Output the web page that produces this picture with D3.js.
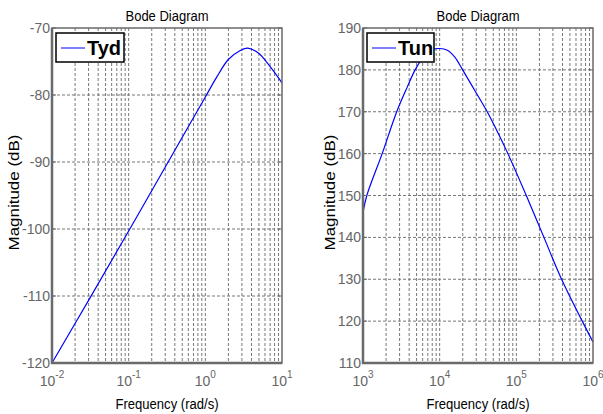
<!DOCTYPE html>
<html lang="en">
<head>
  <meta charset="UTF-8">
  <title>Bode Diagram</title>
  <script src="https://d3js.org/d3.v7.min.js"></script>
  <style>
    body { margin: 0; background: #fff; }
    text { font-family: Arial, 'Liberation Sans', sans-serif; }
    .tick-label { fill: #666; font-size: 14px; }
    .title { fill: #000; font-size: 14px; }
    .axis-label { fill: #000; font-size: 14px; }
    .grid line { stroke: #777; stroke-dasharray: 3,2; stroke-width: 1; }
  </style>
</head>
<body>
<script>
  // left panel: Tyd, log10(w) vs magnitude dB
  var tydLogW = [-2, -1.5, -1, -0.5, -0.2, 0, 0.15, 0.3, 0.45, 0.555, 0.7, 0.8, 0.9, 1.0];
  var tydMag = [-120, -110.2, -100.3, -90.3, -84.3, -80.3, -77.3, -74.7, -73.4, -73.0, -73.8, -75.1, -76.6, -78.2];
  var tydYTicks = [-120, -110, -100, -90, -80, -70];
  var tydXExp = [-2, -1, 0, 1];

  // right panel: Tun
  var tunLogW = [3, 3.05, 3.25, 3.44, 3.58, 3.68, 3.8, 3.9, 4.0, 4.1, 4.2, 4.3, 4.46, 4.62, 4.76, 4.89, 5.13, 5.36, 5.59, 5.86, 6.0];
  var tunMag = [146, 150, 160, 170, 176, 180, 183.4, 184.8, 185.1, 184.7, 183, 180, 175, 170, 165, 160, 150, 140, 130, 120, 115];
  var tunYTicks = [110, 120, 130, 140, 150, 160, 170, 180, 190];
  var tunXExp = [3, 4, 5, 6];

  var W = 603, H = 414;
  var svg = d3.select("body").append("svg").attr("width", W).attr("height", H);

  function panel(opts) {
    var x = d3.scaleLog().domain([Math.pow(10, opts.xExp[0]), Math.pow(10, opts.xExp[opts.xExp.length - 1])])
      .range([opts.left, opts.right]);
    var y = d3.scaleLinear().domain([opts.yTicks[0], opts.yTicks[opts.yTicks.length - 1]])
      .range([opts.bottom, opts.top]);
    var g = svg.append("g");

    // grid: minor + major vertical
    var vlines = [];
    for (var e = opts.xExp[0]; e < opts.xExp[opts.xExp.length - 1]; e++) {
      for (var m = 1; m <= 9; m++) vlines.push(m * Math.pow(10, e));
    }
    var grid = g.append("g").attr("class", "grid");
    grid.selectAll(".v").data(vlines.slice(1)).enter().append("line")
      .attr("x1", function (d) { return x(d); }).attr("x2", function (d) { return x(d); })
      .attr("y1", opts.top).attr("y2", opts.bottom);
    grid.selectAll(".h").data(opts.yTicks.slice(1, -1)).enter().append("line")
      .attr("y1", function (d) { return y(d); }).attr("y2", function (d) { return y(d); })
      .attr("x1", opts.left).attr("x2", opts.right);

    // curve
    var pts = opts.logW.map(function (d, i) { return [Math.pow(10, d), opts.mag[i]]; });
    g.append("path").datum(pts)
      .attr("fill", "none").attr("stroke", "#0000ff").attr("stroke-width", 1.2)
      .attr("d", d3.line().curve(d3.curveCatmullRom.alpha(0.5))
        .x(function (d) { return x(d[0]); }).y(function (d) { return y(d[1]); }));

    // tick marks inside
    g.selectAll(".yt").data(opts.yTicks).enter().append("line")
      .attr("x1", opts.left).attr("x2", opts.left + 4)
      .attr("y1", function (d) { return y(d); }).attr("y2", function (d) { return y(d); })
      .attr("stroke", "#666");
    g.selectAll(".yt2").data(opts.yTicks).enter().append("line")
      .attr("x1", opts.right).attr("x2", opts.right - 4)
      .attr("y1", function (d) { return y(d); }).attr("y2", function (d) { return y(d); })
      .attr("stroke", "#666");

    // box
    g.append("rect").attr("x", opts.left).attr("y", opts.top)
      .attr("width", opts.right - opts.left).attr("height", opts.bottom - opts.top)
      .attr("fill", "none").attr("stroke", "#6a6a6a").attr("stroke-width", 1.5);
    g.append("line").attr("x1", opts.left).attr("x2", opts.left)
      .attr("y1", opts.top).attr("y2", opts.bottom + 1)
      .attr("stroke", "#6a6a6a").attr("stroke-width", 2.5);
    g.append("line").attr("x1", opts.left - 1).attr("x2", opts.right)
      .attr("y1", opts.bottom).attr("y2", opts.bottom)
      .attr("stroke", "#6a6a6a").attr("stroke-width", 2.5);

    // y tick labels
    g.selectAll(".yl").data(opts.yTicks).enter().append("text")
      .attr("class", "tick-label")
      .attr("x", opts.left - 2).attr("y", function (d) { return y(d) + 5; })
      .attr("text-anchor", "end")
      .text(function (d) { return d; });

    // x tick labels 10^n
    var xl = g.selectAll(".xl").data(opts.xExp).enter().append("text")
      .attr("class", "tick-label")
      .attr("x", function (d) { return x(Math.pow(10, d)); })
      .attr("y", opts.bottom + 23)
      .attr("text-anchor", "middle");
    xl.append("tspan").text("10");
    xl.append("tspan").attr("dy", -8).style("font-size", "10px")
      .text(function (d) { return d < 0 ? "-" + (-d) : d; });

    // titles
    var cx = (opts.left + opts.right) / 2;
    g.append("text").attr("class", "title").attr("x", cx).attr("y", 21)
      .attr("text-anchor", "middle")
      .attr("textLength", 83).attr("lengthAdjust", "spacingAndGlyphs")
      .text("Bode Diagram");
    g.append("text").attr("class", "axis-label").attr("x", cx).attr("y", opts.bottom + 46)
      .attr("text-anchor", "middle")
      .attr("textLength", 103).attr("lengthAdjust", "spacingAndGlyphs")
      .text("Frequency  (rad/s)");
    g.append("text").attr("class", "axis-label")
      .attr("transform", "translate(" + opts.ylabX + "," + ((opts.top + opts.bottom) / 2 - 3) + ")rotate(-90)")
      .attr("text-anchor", "middle")
      .attr("textLength", 116).attr("lengthAdjust", "spacingAndGlyphs")
      .text("Magnitude (dB)");

    // legend
    var lg = g.append("g").attr("transform", "translate(" + (opts.left + 4) + "," + (opts.top + 5) + ")");
    lg.append("rect").attr("width", opts.legW).attr("height", 29)
      .attr("fill", "#fff").attr("stroke", "#000").attr("stroke-width", 1.5);
    lg.append("line").attr("x1", 5).attr("x2", 29).attr("y1", 15).attr("y2", 15)
      .attr("stroke", "#0000ff").attr("stroke-width", 1);
    lg.append("text").attr("x", 31).attr("y", 22)
      .style("font-size", "20px").style("font-weight", "bold").attr("fill", "#000")
      .text(opts.name);
  }

  panel({ left: 52, right: 282, top: 28, bottom: 363, logW: tydLogW, mag: tydMag,
    yTicks: tydYTicks, xExp: tydXExp, ylabX: 19, legW: 68, name: "Tyd" });
  panel({ left: 363, right: 593, top: 28, bottom: 363, logW: tunLogW, mag: tunMag,
    yTicks: tunYTicks, xExp: tunXExp, ylabX: 335, legW: 67, name: "Tun" });
</script>
</body>
</html>
